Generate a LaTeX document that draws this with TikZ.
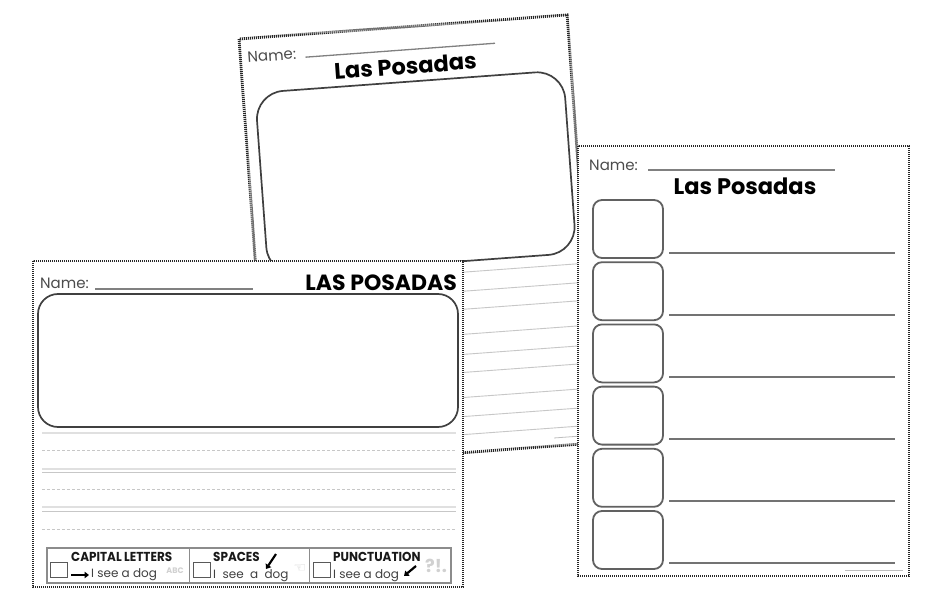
\documentclass[tikz,border=0pt]{standalone}
\usepackage{fontspec}
\setmainfont{Poppins}
\newfontfamily\symfont{DejaVu Sans}
\usetikzlibrary{arrows.meta}
\begin{document}
\begin{tikzpicture}[x=1pt,y=-1pt,
  sheet/.style={draw=black!85, line width=2.8pt, dash pattern=on 1.1pt off 0.9pt, fill=white},
  bigbox/.style={draw=black!75, line width=1.7pt},
  smallbox/.style={draw=black!62, line width=1.8pt, rounded corners=9pt},
  guide/.style={draw=black!22, line width=0.9pt},
  guidedash/.style={draw=black!22, line width=0.8pt, dash pattern=on 3pt off 2pt},
  band/.style={draw=black!12, line width=2.6pt},
  nameline/.style={draw=black!50, line width=1.3pt},
  answerline/.style={draw=black!55, line width=1.8pt},
  nametxt/.style={inner sep=0pt, text=black!70, font=\fontsize{15}{15}\selectfont},
  titletxt/.style={inner sep=0pt, text=black, font=\fontsize{22.5}{22.5}\selectfont\bfseries},
  checktxt/.style={inner sep=0pt, anchor=west, text=black!90, font=\fontsize{13}{13}\selectfont\bfseries},
  dogtxt/.style={inner sep=0pt, anchor=west, text=black!75, font=\fontsize{12}{12}\selectfont},
  fadetxt/.style={inner sep=0pt, text=black!18, font=\fontsize{12}{12}\selectfont\bfseries},
  cbox/.style={draw=black!65, line width=1pt},
  pointer/.style={line width=2.2pt, -{Triangle[length=4.5pt,width=6.5pt]}, black},
  copytxt/.style={draw=black!25, line width=1pt}
]
\useasboundingbox (0,0) rectangle (927,591);

% ---------- back sheet (rotated) ----------
\begin{scope}[shift={(239,39)}, rotate=4.2, transform shape]
  \draw[sheet] (0,0) rectangle (329,429);
  \node[nametxt, anchor=west] (bname) at (7,19) {Name:};
  \draw[nameline] (65,23) -- (255,23);
  \node[titletxt] (btitle) at (164,39) {Las Posadas};
  \draw[bigbox, rounded corners=28pt] (12,55) rectangle (321,238);
  \foreach \v in {249,268,286,311,331,349,374,393,411}
    \draw[guide] (12,\v) -- (321,\v);
  \draw[copytxt, line width=0.8pt] (285,421) -- (318,421);
\end{scope}

% ---------- left sheet ----------
\draw[sheet] (33,261) rectangle (463,587);
\node[nametxt, anchor=west] (lname) at (40,283) {Name:};
\draw[nameline] (95,289) -- (253,289);
\node[titletxt, anchor=east, font=\fontsize{22}{22}\selectfont\bfseries] (ltitle) at (457,283) {LAS POSADAS};
\draw[bigbox, rounded corners=20pt] (38,294) rectangle (458,427);
\draw[band] (42,433) -- (456,433);
\draw[guidedash] (42,450) -- (456,450);
\draw[band] (42,469) -- (456,469);
\draw[guide] (42,472) -- (456,472);
\draw[guidedash] (42,489) -- (456,489);
\draw[band] (42,507) -- (456,507);
\draw[guide] (42,511) -- (456,511);
\draw[guidedash] (42,529) -- (456,529);

% checklist
\draw[draw=black!45, line width=1.2pt] (47,548) rectangle (451,583);
\draw[draw=black!45, line width=1pt] (189,548) -- (189,583);
\draw[draw=black!45, line width=1pt] (309,548) -- (309,583);
% cell 1
\draw[cbox] (50,562) rectangle (67,577);
\node[checktxt] (c1) at (71,557) {\scalebox{0.92}[1]{CAPITAL LETTERS}};
\coordinate (a1s) at (71,575);
\coordinate (a1e) at (89,575);
\draw[pointer] (a1s) -- (a1e);
\node[dogtxt] (d1) at (91,575) {I see a dog};
\node[fadetxt, font=\fontsize{8}{8}\selectfont\bfseries] (f1) at (175,571) {ABC};
% cell 2
\draw[cbox] (193,562) rectangle (210,577);
\node[checktxt] (c2) at (213,557) {\scalebox{0.92}[1]{SPACES}};
\coordinate (a2s) at (276,554);
\coordinate (a2e) at (266,569);
\draw[pointer] (a2s) -- (a2e);
\node[dogtxt] (d2) at (213,576) {I\ \ see\ \ a\ \ dog};
\node[fadetxt] (f2) at (300,569) {\symfont\fontsize{14}{14}\selectfont ☜};
% cell 3
\draw[cbox] (313,562) rectangle (330,577);
\node[checktxt] (c3) at (333,557) {\scalebox{0.92}[1]{PUNCTUATION}};
\node[dogtxt] (d3) at (333,576) {I see a dog};
\coordinate (a3s) at (416,566);
\coordinate (a3e) at (404,576);
\draw[pointer] (a3s) -- (a3e);
\node[fadetxt, font=\fontsize{18}{18}\selectfont\bfseries] (f3) at (436,566) {?!.};

% ---------- right sheet ----------
\draw[sheet] (578,146) rectangle (909,576);
\node[nametxt, anchor=west] (rname) at (589,165) {Name:};
\draw[nameline] (648,170) -- (835,170);
\node[titletxt] (rtitle) at (745,186) {Las Posadas};
\foreach \i in {0,...,5} {
  \draw[smallbox] (593,{200+62.2*\i}) rectangle (663,{258+62.2*\i});
  \draw[answerline] (669,{253+62*\i}) -- (895,{253+62*\i});
}
\draw[copytxt, line width=0.8pt] (845,570) -- (903,570);
\end{tikzpicture}
\end{document}
